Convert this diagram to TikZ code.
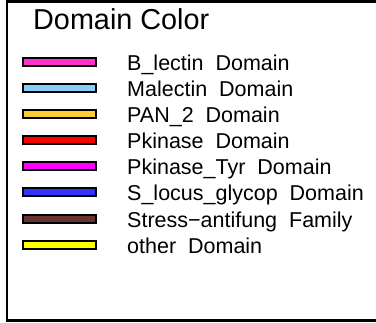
\documentclass[tikz,border=0pt]{standalone}
\usepackage{fontspec}
\setmainfont{Liberation Sans}
\definecolor{cBlectin}{HTML}{FF33CC}
\definecolor{cMalectin}{HTML}{87CEFA}
\definecolor{cPAN}{HTML}{FFCC33}
\definecolor{cPkinase}{HTML}{FF0000}
\definecolor{cPkTyr}{HTML}{FF00FF}
\definecolor{cSlocus}{HTML}{3333FF}
\definecolor{cStress}{HTML}{663333}
\definecolor{cOther}{HTML}{FFFF00}
\tikzset{
  legbar/.style={draw=black, line width=2pt, minimum width=73pt, minimum height=8pt, inner sep=0pt, anchor=center},
  leglabel/.style={anchor=base west, inner sep=0pt, font=\fontsize{21.5}{25}\selectfont},
  legtitle/.style={anchor=base west, inner sep=0pt, font=\fontsize{28.8}{34}\selectfont},
  frame/.style={draw=black, line width=2.6pt}
}
\begin{document}
\begin{tikzpicture}[x=1pt,y=-1pt]
\useasboundingbox (0,0) rectangle (376,323);
\clip (0,0) rectangle (376,323);
\draw[frame] (7,1.8) rectangle (390,320.5);
\node[legtitle] (title) at (33,30) {Domain Color};
\foreach \i/\c/\t in {0/cBlectin/B\_lectin\ \ Domain,
                      1/cMalectin/Malectin\ \ Domain,
                      2/cPAN/PAN\_2\ \ Domain,
                      3/cPkinase/Pkinase\ \ Domain,
                      4/cPkTyr/Pkinase\_Tyr\ \ Domain,
                      5/cSlocus/S\_locus\_glycop\ \ Domain,
                      6/cStress/Stress{\char"2212}antifung\ \ Family,
                      7/cOther/other\ \ Domain} {
  \pgfmathsetmacro{\yy}{62+26.1*\i}
  \node[legbar, fill=\c] (bar\i) at (59.5,\yy) {};
  \node[leglabel] (lab\i) at (127,\yy+8.5) {\t};
}
\end{tikzpicture}
\end{document}
